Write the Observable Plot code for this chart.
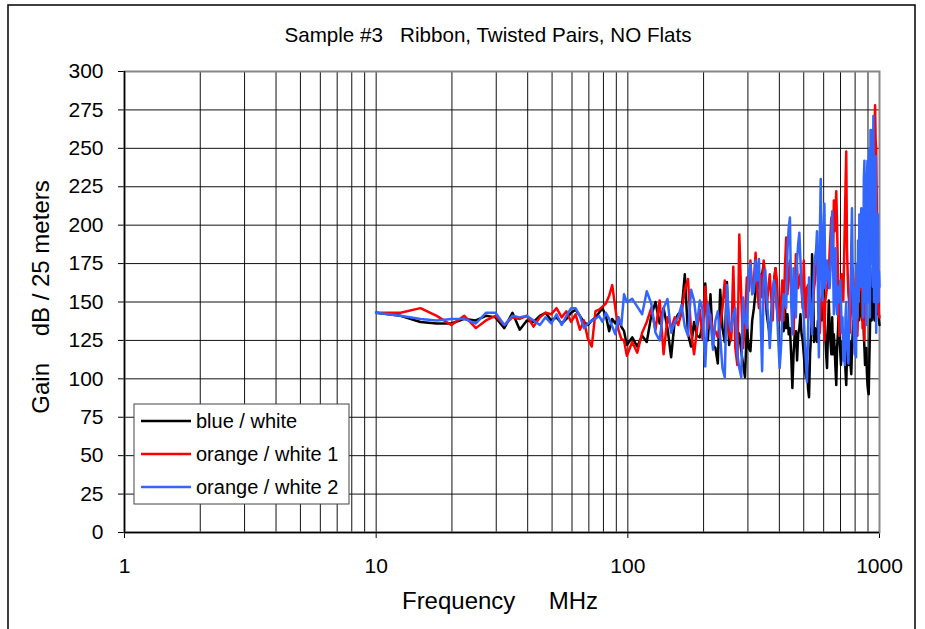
<!DOCTYPE html>
<html>
<head>
<meta charset="utf-8">
<script src="https://cdn.jsdelivr.net/npm/d3@7"></script>
<script src="https://cdn.jsdelivr.net/npm/@observablehq/plot@0.6"></script>
<style>
  html, body { margin: 0; padding: 0; background: #fff; overflow: hidden; }
  #wrap { position: relative; width: 925px; height: 629px; overflow: hidden; background: #fff; }
  #wrap svg { position: absolute; left: 0; top: 0; }
  #wrap svg text.pre { white-space: pre; }
</style>
</head>
<body>
<div id="wrap"></div>
<script>
// ---------- data ----------
const subtitleText = "Sample #3   Ribbon, Twisted Pairs, NO Flats";
const xLabelText = "Frequency     MHz";
const yLabelText = "Gain    dB / 25 meters";
const seriesNames = ["blue / white", "orange / white 1", "orange / white 2"];
const xTickValues = [1, 10, 100, 1000];
const xGridValues = [2,3,4,5,6,7,8,9,10,20,30,40,50,60,70,80,90,100,200,300,400,500,600,700,800,900];
const yTickValues = [0,25,50,75,100,125,150,175,200,225,250,275,300];

// swept frequency points, MHz
const freq = [
  10,12.5,15,17.4,19.9,22.4,24.9,27.3,29.8,32.3,
  34.8,37.2,39.7,42.2,44.7,47.1,49.6,52.1,54.6,57,
  59.5,62,64.5,66.9,69.4,71.9,74.4,76.8,79.3,81.8,
  84.3,86.7,89.2,91.7,94.2,96.6,99.1,
  104.1,109,114,118.9,123.9,128.8,133.8,138.7,143.7,148.6,
  153.6,158.5,163.5,168.4,173.4,178.3,183.3,188.2,193.2,198.1,
  203.1,208,213,217.9,222.9,227.8,232.8,237.7,242.7,247.6,
  252.6,257.5,262.5,267.4,272.4,277.3,282.3,287.2,292.2,297.1,
  302.1,307,312,316.9,321.9,326.8,331.8,336.7,341.7,346.6,
  351.6,356.5,361.5,366.4,371.4,376.3,381.3,386.2,391.2,396.1,
  401.1,406,411,415.9,420.9,425.8,430.8,435.7,440.7,445.6,
  450.6,455.5,460.5,465.4,470.4,475.3,480.3,485.2,490.2,495.1,
  500.1,505,510,514.9,519.9,524.8,529.8,534.7,539.7,544.6,
  549.6,554.5,559.5,564.4,569.4,574.3,579.3,584.2,589.2,594.1,
  599.1,604,609,613.9,618.9,623.8,628.8,633.7,638.7,643.6,
  648.6,653.5,658.5,663.4,668.4,673.3,678.3,683.2,688.2,693.1,
  698.1,703,708,712.9,717.9,722.8,727.8,732.7,737.7,742.6,
  747.6,752.5,757.5,762.4,767.4,772.3,777.3,782.2,787.2,792.1,
  797.1,802,807,811.9,816.9,821.8,826.8,831.7,836.7,841.6,
  846.6,851.5,856.5,861.4,866.4,871.3,876.3,881.2,886.2,891.1,
  896.1,901,906,910.9,915.9,920.8,925.8,930.7,935.7,940.6,
  945.6,950.5,955.5,960.4,965.4,970.3,975.3,980.2,985.2,990.1,
  995.1,1000
];

// gain, dB / 25 m : blue / white
const blueWhite = [
  143,141,137,136,136,139,138,141,140,133,
  143,132,138,137,141,143,138,140,136,139,
  143,145,141,137,135,138,140,143,146,141,
  131,139,136,140,134,131,122,
  127,121,128,124,141,150,136,146,133,114,
  138,142,144,168,129,121,137,128,127,135,
  162,125,155,122,120,110,158,133,124,163,
  122,131,146,138,131,129,118,109,101,135,
  120,118,138,146,157,166,159,164,168,175,
  157,142,135,129,142,153,164,172,146,138,
  142,150,147,131,146,133,142,129,133,116,
  94,116,129,131,112,129,133,142,129,125,
  116,107,101,112,94,88,116,129,181,159,
  124,133,129,124,138,129,142,146,138,151,
  164,146,129,116,107,129,151,133,124,116,
  140,116,129,120,107,96,120,129,142,128,
  118,109,124,116,120,129,118,105,96,116,
  120,109,116,124,109,103,118,129,138,131,
  142,138,133,129,138,142,138,145,150,159,
  142,138,151,142,129,120,109,116,120,104,
  96,92,90,110,130,151,142,138,160,172,
  150,142,138,155,165,172,160,145,142,150,
  138,135
];

// gain, dB / 25 m : orange / white 1
const orangeWhite1 = [
  143,143,146,141,135,141,133,138,141,135,
  140,139,141,134,140,143,142,146,140,144,
  137,142,132,138,126,121,144,145,147,149,
  154,161,146,132,126,125,115,
  124,117,130,137,146,132,151,116,140,133,
  140,135,143,158,165,131,116,132,145,126,
  160,133,142,130,131,127,135,146,164,142,
  129,125,173,120,109,194,153,120,138,166,
  157,177,157,164,182,157,146,168,153,177,
  164,146,159,168,153,138,164,172,164,142,
  138,150,164,138,172,192,155,168,177,159,
  140,129,159,181,172,159,164,168,159,146,
  177,151,140,159,161,157,146,138,133,151,
  159,164,172,177,179,168,130,146,151,155,
  146,125,151,155,161,159,168,183,194,205,
  205,170,216,196,210,222,200,172,150,128,
  160,150,168,155,151,175,200,225,248,185,
  168,155,150,130,140,150,160,172,165,150,
  122,150,160,150,128,155,164,170,158,160,
  164,155,133,153,160,125,158,165,168,172,
  180,170,185,194,175,200,230,248,215,196,
  205,235,262,278,255,250,215,185,165,150,
  142,140
];

// gain, dB / 25 m : orange / white 2
const orangeWhite2 = [
  143,141,139,138,139,139,136,143,143,135,
  141,140,141,138,135,140,136,142,135,141,
  146,146,141,133,136,138,139,141,137,143,
  139,134,129,140,135,155,150,
  152,147,142,157,149,130,125,146,152,130,
  137,140,148,134,128,158,151,135,151,145,
  108,149,139,119,138,144,127,107,101,161,
  138,131,142,146,116,107,101,153,138,133,
  168,175,155,157,177,164,178,142,105,164,
  171,153,138,120,138,157,164,157,146,125,
  107,120,142,155,151,146,183,198,205,151,
  129,172,151,140,177,188,195,177,159,151,
  140,124,111,98,129,166,151,140,129,155,
  172,179,183,196,159,114,194,230,172,151,
  194,214,159,168,177,168,164,159,172,188,
  209,180,142,170,185,150,142,160,155,150,
  164,150,130,140,112,125,109,140,150,130,
  118,110,135,150,160,185,211,170,140,125,
  116,160,114,175,140,190,150,207,160,200,
  211,160,185,140,230,242,150,207,135,231,
  242,150,238,250,140,262,175,245,262,160,
  271,150,230,215,245,130,205,185,207,150,
  170,160
];

// ---------- build table ----------
const seriesValues = [blueWhite, orangeWhite1, orangeWhite2];
const rows = [];
seriesValues.forEach((vals, s) => {
  vals.forEach((v, i) => rows.push({freq: freq[i], gain: v, series: seriesNames[s]}));
});

const FONT = "'Liberation Sans', Arial, Helvetica, sans-serif";
const lineColors = ["#000000", "#ff0000", "#3366ff"];

const chart = Plot.plot({
  width: 925,
  height: 629,
  marginLeft: 124,
  marginRight: 46,
  marginTop: 71,
  marginBottom: 97,
  style: {fontFamily: FONT, fontSize: "21px", color: "#000", background: "transparent", overflow: "visible"},
  x: {type: "log", domain: [1, 1000], ticks: xTickValues, tickFormat: d => String(d), tickSize: 6, tickPadding: 20, label: null},
  y: {domain: [0, 300], ticks: yTickValues, tickSize: 6, tickPadding: 15, label: null},
  color: {domain: seriesNames, range: lineColors},
  marks: [
    Plot.ruleX(xGridValues, {stroke: "#111", strokeWidth: 1}),
    Plot.ruleY(yTickValues, {stroke: "#111", strokeWidth: 1}),
    Plot.frame({stroke: "#888", strokeWidth: 2}),
    Plot.line(rows, {x: "freq", y: "gain", z: "series", stroke: "series", strokeWidth: 2.5, strokeLinejoin: "round"}),
    Plot.ruleX([1], {stroke: "#000", strokeWidth: 1.5}),
    Plot.ruleY([0], {stroke: "#000", strokeWidth: 1.5})
  ]
});

const wrap = document.getElementById("wrap");
wrap.appendChild(chart);

// ---------- overlay: frame, subtitle, axis titles, legend ----------
const ov = d3.create("svg")
  .attr("width", 925).attr("height", 629)
  .attr("font-family", FONT);

ov.append("rect")
  .attr("x", 8).attr("y", 5).attr("width", 907).attr("height", 700)
  .attr("fill", "none").attr("stroke", "#111").attr("stroke-width", 1.6);

ov.append("text")
  .attr("class", "pre").attr("xml:space", "preserve")
  .attr("x", 488).attr("y", 42)
  .attr("text-anchor", "middle")
  .attr("font-size", 20.6)
  .text(subtitleText);

ov.append("text")
  .attr("class", "pre").attr("xml:space", "preserve")
  .attr("x", 500).attr("y", 609)
  .attr("text-anchor", "middle")
  .attr("font-size", 24)
  .text(xLabelText);

ov.append("text")
  .attr("class", "pre").attr("xml:space", "preserve")
  .attr("transform", "translate(49,297) rotate(-90)")
  .attr("text-anchor", "middle")
  .attr("font-size", 24)
  .text(yLabelText);

const lg = ov.append("g");
lg.append("rect")
  .attr("x", 134).attr("y", 404).attr("width", 215).attr("height", 100)
  .attr("fill", "#fff").attr("stroke", "#444").attr("stroke-width", 1);
seriesNames.forEach((name, i) => {
  const yy = 421 + i * 33;
  lg.append("line")
    .attr("x1", 141).attr("x2", 191).attr("y1", yy).attr("y2", yy)
    .attr("stroke", lineColors[i]).attr("stroke-width", 2.5);
  lg.append("text")
    .attr("x", 196).attr("y", yy + 7)
    .attr("font-size", 20)
    .text(name);
});

wrap.appendChild(ov.node());
</script>
</body>
</html>
